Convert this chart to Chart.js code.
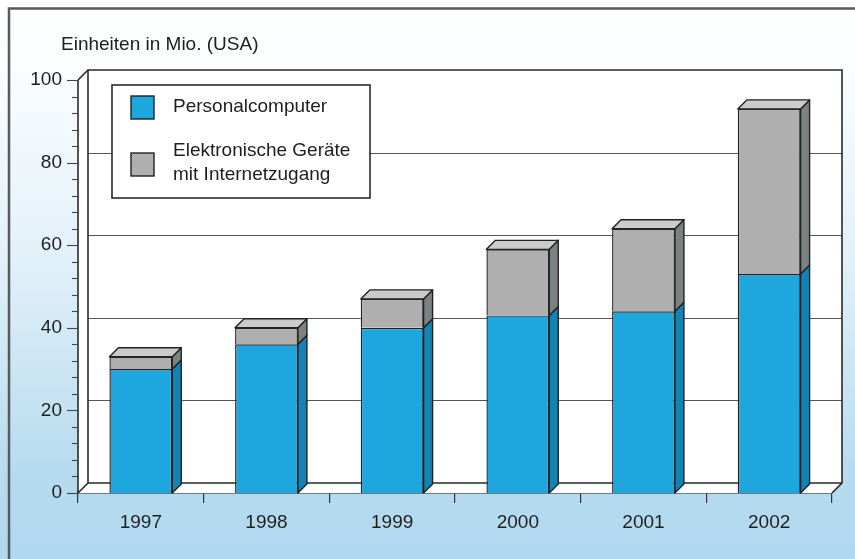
<!DOCTYPE html>
<html><head><meta charset="utf-8">
<script src="https://cdn.jsdelivr.net/npm/chart.js@4.4.0/dist/chart.umd.min.js"></script>
<style>html,body{margin:0;padding:0;background:#fff}canvas{display:block}</style>
</head><body>
<canvas id="c" width="855" height="559"></canvas>
<script>
const categories = ['1997', '1998', '1999', '2000', '2001', '2002'];
const pcValues = [30, 36, 40, 43, 44, 53];
const deviceValues = [3, 4, 7, 16, 20, 40];
const seriesNames = ['Personalcomputer', 'Elektronische Geräte mit Internetzugang'];
const legendLines = [['Personalcomputer'], ['Elektronische Geräte', 'mit Internetzugang']];
const yTickLabels = [0, 20, 40, 60, 80, 100];
const axisTitle = 'Einheiten in Mio. (USA)';

const FONT = '"Liberation Sans", Arial, sans-serif';
const TXT = '#1e1e1e';
const DEPTH = 10, BAR_D = 9;

function makeGrayPattern() {
  const p = document.createElement('canvas');
  p.width = 2; p.height = 2;
  const g = p.getContext('2d');
  g.fillStyle = '#b8b8b8'; g.fillRect(0, 0, 2, 2);
  g.fillStyle = '#a6a6a6'; g.fillRect(0, 0, 1, 1); g.fillRect(1, 1, 1, 1);
  return g.createPattern(p, 'repeat');
}
const grayPat = makeGrayPattern();
const faceColors = [
  { front: '#1ea6de', side: '#1383b4', top: '#48b8e6' },
  { front: grayPat, side: '#7a8282', top: '#cbcbcb' }
];

const deco = {
  id: 'deco',
  beforeDraw(chart) {
    const ctx = chart.ctx, W = chart.width, H = chart.height;
    ctx.save();
    const g = ctx.createLinearGradient(0, 0, 0, H);
    g.addColorStop(0, '#ffffff');
    g.addColorStop(0.12, '#fbfdfe');
    g.addColorStop(0.45, '#e3f1f9');
    g.addColorStop(0.85, '#b6dbef');
    g.addColorStop(1, '#b0d8ee');
    ctx.fillStyle = g; ctx.fillRect(0, 0, W, H);
    ctx.strokeStyle = '#5a5a5a'; ctx.lineWidth = 2.5;
    ctx.beginPath(); ctx.moveTo(9, H); ctx.lineTo(9, 8.5); ctx.lineTo(W, 8.5); ctx.stroke();
    ctx.fillStyle = TXT; ctx.font = '19px ' + FONT;
    ctx.textAlign = 'left'; ctx.textBaseline = 'middle';
    ctx.fillText(axisTitle, 61, 45);
    ctx.restore();
  },
  beforeDatasetsDraw(chart) {
    const ctx = chart.ctx, a = chart.chartArea, y = chart.scales.y;
    const L = a.left, R = a.right, T = a.top, B = a.bottom;
    ctx.save();
    // back wall
    ctx.fillStyle = '#ffffff';
    ctx.fillRect(L + DEPTH, T - DEPTH, R - L, B - T);
    // floor + left wall
    ctx.beginPath();
    ctx.moveTo(L, B); ctx.lineTo(L, T); ctx.lineTo(L + DEPTH, T - DEPTH);
    ctx.lineTo(R + DEPTH, T - DEPTH); ctx.lineTo(R + DEPTH, B - DEPTH); ctx.lineTo(R, B); ctx.closePath();
    ctx.fill();
    // grid lines on back wall
    ctx.strokeStyle = '#555'; ctx.lineWidth = 1;
    yTickLabels.forEach(v => {
      if (v === 0 || v === 100) return;
      const py = Math.round(y.getPixelForValue(v) - DEPTH) + 0.5;
      ctx.beginPath(); ctx.moveTo(L + DEPTH, py); ctx.lineTo(R + DEPTH, py); ctx.stroke();
    });
    // wall outlines
    ctx.strokeStyle = '#2a2a2a'; ctx.lineWidth = 1.6;
    ctx.beginPath();
    ctx.moveTo(L + DEPTH, B - DEPTH); ctx.lineTo(L + DEPTH, T - DEPTH); ctx.lineTo(R + DEPTH, T - DEPTH);
    ctx.lineTo(R + DEPTH, B - DEPTH); ctx.lineTo(L + DEPTH, B - DEPTH); ctx.lineTo(L, B);
    ctx.moveTo(R + DEPTH, B - DEPTH); ctx.lineTo(R, B);
    ctx.moveTo(L, T); ctx.lineTo(L + DEPTH, T - DEPTH);
    ctx.stroke();
    // legend
    const lx = 112, ly = 85, lw = 258, lh = 113;
    ctx.fillStyle = '#ffffff'; ctx.fillRect(lx, ly, lw, lh);
    ctx.strokeStyle = '#2a2a2a'; ctx.lineWidth = 1.6; ctx.strokeRect(lx, ly, lw, lh);
    const sw = [[131, 96], [131, 153]];
    chart.data.datasets.forEach((ds, i) => {
      ctx.fillStyle = ds.backgroundColor;
      ctx.fillRect(sw[i][0], sw[i][1], 23, 23);
      ctx.strokeStyle = '#222'; ctx.lineWidth = 1.4;
      ctx.strokeRect(sw[i][0], sw[i][1], 23, 23);
      ctx.fillStyle = TXT; ctx.font = '19px ' + FONT;
      ctx.textAlign = 'left'; ctx.textBaseline = 'middle';
      const lines = legendLines[i];
      const y0 = i === 0 ? 107 : 151;
      lines.forEach((t, k) => ctx.fillText(t, 173, y0 + k * 24));
    });
    ctx.restore();
  },
  afterDatasetsDraw(chart) {
    const ctx = chart.ctx, a = chart.chartArea, ys = chart.scales.y;
    ctx.save();
    ctx.strokeStyle = '#222'; ctx.lineWidth = 1.4; ctx.lineJoin = 'round';
    const n = chart.data.datasets.length;
    chart.data.datasets.forEach((ds, di) => {
      const meta = chart.getDatasetMeta(di);
      meta.data.forEach(bar => {
        const p = bar.getProps(['x', 'y', 'base', 'width'], true);
        const xl = p.x - p.width / 2, xr = p.x + p.width / 2;
        ctx.fillStyle = faceColors[di].side;
        ctx.beginPath();
        ctx.moveTo(xr, p.y); ctx.lineTo(xr + BAR_D, p.y - BAR_D);
        ctx.lineTo(xr + BAR_D, p.base - BAR_D); ctx.lineTo(xr, p.base); ctx.closePath();
        ctx.fill(); ctx.stroke();
        if (di === n - 1) {
          ctx.fillStyle = faceColors[di].top;
          ctx.beginPath();
          ctx.moveTo(xl, p.y); ctx.lineTo(xl + BAR_D, p.y - BAR_D);
          ctx.lineTo(xr + BAR_D, p.y - BAR_D); ctx.lineTo(xr, p.y); ctx.closePath();
          ctx.fill(); ctx.stroke();
        }
      });
    });
    // y axis line and ticks
    ctx.strokeStyle = '#2a2a2a'; ctx.lineWidth = 1.6;
    ctx.beginPath(); ctx.moveTo(a.left, a.bottom); ctx.lineTo(a.left, a.top); ctx.stroke();
    ctx.lineWidth = 1.1; ctx.strokeStyle = '#444';
    for (let v = 0; v <= 100; v += 4) {
      const py = Math.round(ys.getPixelForValue(v)) + 0.5;
      const len = v % 20 === 0 ? 11 : 6;
      ctx.beginPath(); ctx.moveTo(a.left - len, py); ctx.lineTo(a.left, py); ctx.stroke();
    }
    ctx.restore();
  }
};

new Chart(document.getElementById('c'), {
  type: 'bar',
  data: {
    labels: categories,
    datasets: [
      { label: seriesNames[0], data: pcValues, backgroundColor: faceColors[0].front,
        borderColor: '#222', borderWidth: 1.4, barPercentage: 0.5, categoryPercentage: 1 },
      { label: seriesNames[1], data: deviceValues, backgroundColor: faceColors[1].front,
        borderColor: '#222', borderWidth: 1.4, barPercentage: 0.5, categoryPercentage: 1 }
    ]
  },
  options: {
    responsive: false,
    animation: false,
    layout: { padding: { top: 80, right: 23, left: 0, bottom: 0 } },
    plugins: { legend: { display: false }, tooltip: { enabled: false } },
    scales: {
      x: {
        stacked: true,
        grid: { display: true, drawOnChartArea: false, drawTicks: true, tickLength: 10, color: '#333', lineWidth: 1.2, offset: true },
        border: { display: true, color: '#222', width: 1.6 },
        ticks: { color: TXT, font: { family: FONT, size: 19 }, padding: 8, maxRotation: 0 },
        afterFit: s => { s.height = 66; }
      },
      y: {
        stacked: true, min: 0, max: 100,
        grid: { display: false },
        border: { display: false },
        ticks: {
          stepSize: 20, color: TXT, font: { family: FONT, size: 19 }, padding: 8,
          callback: v => yTickLabels.includes(v) ? String(v) : ''
        },
        afterFit: s => { s.width = 78; }
      }
    }
  },
  plugins: [deco]
});
</script>
</body></html>
